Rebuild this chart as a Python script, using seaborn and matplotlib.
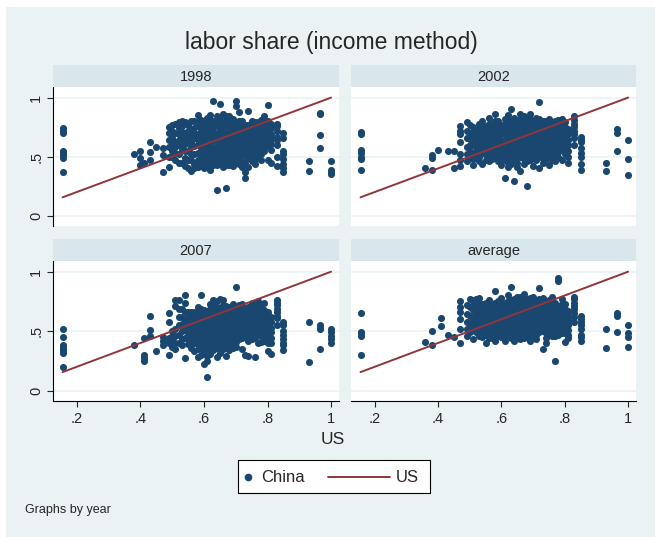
import seaborn as sns
import matplotlib.pyplot as plt
import pandas as pd
from matplotlib.patches import Rectangle
from matplotlib.lines import Line2D

# US labor share by industry (x) and Chinese shares per industry (y)
us_share = [0.155, 0.36, 0.38, 0.40, 0.41, 0.43, 0.45, 0.47, 0.49, 0.50, 0.51, 0.52,
            0.53, 0.54, 0.55, 0.56, 0.57, 0.58, 0.59, 0.60, 0.61, 0.62, 0.63, 0.64,
            0.65, 0.66, 0.67, 0.68, 0.69, 0.70, 0.71, 0.72, 0.73, 0.74, 0.75, 0.76,
            0.77, 0.78, 0.79, 0.80, 0.81, 0.83, 0.85, 0.93, 0.965, 1.0]

china_1998 = [
    [0.74, 0.72, 0.70, 0.55, 0.53, 0.51, 0.49, 0.37], [], [0.52], [0.55, 0.49, 0.43],
    [0.45], [0.62, 0.54, 0.47], [0.58], [0.37, 0.57, 0.51],
    [0.41, 0.64, 0.70, 0.50, 0.75, 0.58], [0.77, 0.72, 0.66, 0.55, 0.50, 0.61],
    [0.78, 0.62, 0.58, 0.47, 0.70, 0.53], [0.74, 0.69, 0.60, 0.52, 0.79, 0.64, 0.45],
    [0.80, 0.76, 0.65, 0.56, 0.45, 0.71, 0.60], [0.79, 0.70, 0.61, 0.49, 0.42, 0.66, 0.55],
    [0.72, 0.63, 0.55, 0.40, 0.77, 0.68, 0.47],
    [0.80, 0.67, 0.58, 0.47, 0.38, 0.73, 0.62, 0.52],
    [0.74, 0.66, 0.52, 0.44, 0.80, 0.70, 0.59, 0.40],
    [0.85, 0.76, 0.69, 0.60, 0.53, 0.41, 0.64, 0.47, 0.80],
    [0.81, 0.72, 0.64, 0.56, 0.49, 0.43, 0.77, 0.60, 0.68],
    [0.78, 0.70, 0.62, 0.55, 0.46, 0.40, 0.74, 0.66, 0.51],
    [0.83, 0.74, 0.66, 0.58, 0.50, 0.42, 0.79, 0.70, 0.54, 0.46],
    [0.85, 0.77, 0.68, 0.61, 0.53, 0.45, 0.39, 0.72, 0.57, 0.81],
    [0.97, 0.80, 0.72, 0.64, 0.57, 0.48, 0.76, 0.68, 0.52, 0.43],
    [0.84, 0.76, 0.69, 0.60, 0.51, 0.43, 0.22, 0.80, 0.65, 0.56, 0.47],
    [0.95, 0.82, 0.73, 0.65, 0.58, 0.49, 0.77, 0.69, 0.62, 0.53, 0.44],
    [0.86, 0.78, 0.70, 0.62, 0.54, 0.45, 0.74, 0.66, 0.58, 0.50, 0.41],
    [0.80, 0.74, 0.66, 0.57, 0.47, 0.23, 0.84, 0.70, 0.61, 0.52, 0.43],
    [0.84, 0.77, 0.69, 0.61, 0.52, 0.43, 0.80, 0.73, 0.65, 0.56, 0.48],
    [0.82, 0.73, 0.64, 0.55, 0.47, 0.78, 0.69, 0.60, 0.51, 0.42],
    [0.97, 0.93, 0.78, 0.70, 0.60, 0.51, 0.74, 0.65, 0.56, 0.46],
    [0.88, 0.75, 0.67, 0.58, 0.44, 0.80, 0.71, 0.62, 0.53, 0.49],
    [0.80, 0.71, 0.62, 0.53, 0.46, 0.76, 0.67, 0.58, 0.41],
    [0.77, 0.66, 0.57, 0.37, 0.32, 0.72, 0.62, 0.51, 0.45],
    [0.89, 0.72, 0.63, 0.49, 0.41, 0.77, 0.68, 0.58, 0.54],
    [0.75, 0.68, 0.60, 0.46, 0.80, 0.71, 0.64, 0.55, 0.51],
    [0.79, 0.70, 0.55, 0.48, 0.74, 0.66, 0.61, 0.44],
    [0.74, 0.65, 0.58, 0.50, 0.79, 0.70, 0.62, 0.54],
    [0.81, 0.71, 0.62, 0.52, 0.76, 0.67, 0.58, 0.47],
    [0.84, 0.76, 0.67, 0.59, 0.80, 0.72, 0.63, 0.55],
    [0.94, 0.80, 0.72, 0.64, 0.47, 0.76, 0.68, 0.59],
    [0.78, 0.69, 0.61, 0.45, 0.74, 0.65, 0.56],
    [0.78, 0.76, 0.67, 0.60, 0.50, 0.42, 0.72, 0.64],
    [0.70, 0.66, 0.55, 0.48, 0.40, 0.37, 0.52, 0.44],
    [0.46, 0.38], [0.87, 0.86, 0.68, 0.57], [0.46, 0.39, 0.37, 0.35]]

china_2002 = [
    [0.71, 0.69, 0.56, 0.53, 0.50, 0.48, 0.39], [0.40], [0.49, 0.39, 0.51], [0.56],
    [], [0.55], [0.55, 0.40], [0.76, 0.69, 0.62, 0.52, 0.42, 0.72, 0.47],
    [0.79, 0.72, 0.58, 0.46, 0.66, 0.52], [0.77, 0.65, 0.55, 0.51, 0.70, 0.60],
    [0.70, 0.60, 0.53, 0.43, 0.75, 0.64, 0.48], [0.66, 0.59, 0.55, 0.71, 0.63, 0.50],
    [0.73, 0.64, 0.57, 0.50, 0.78, 0.68, 0.60, 0.46],
    [0.80, 0.70, 0.61, 0.53, 0.44, 0.75, 0.65, 0.57],
    [0.76, 0.67, 0.58, 0.51, 0.72, 0.62, 0.54, 0.47],
    [0.83, 0.71, 0.63, 0.55, 0.46, 0.78, 0.67, 0.59, 0.50],
    [0.78, 0.68, 0.60, 0.52, 0.74, 0.64, 0.56, 0.48],
    [0.86, 0.75, 0.65, 0.57, 0.49, 0.80, 0.70, 0.61, 0.53],
    [0.80, 0.72, 0.62, 0.54, 0.46, 0.76, 0.67, 0.58, 0.50],
    [0.77, 0.69, 0.60, 0.52, 0.43, 0.73, 0.64, 0.56, 0.48],
    [0.82, 0.73, 0.64, 0.56, 0.47, 0.32, 0.78, 0.69, 0.60, 0.51],
    [0.85, 0.76, 0.67, 0.58, 0.50, 0.41, 0.81, 0.72, 0.63, 0.54, 0.45],
    [0.90, 0.79, 0.70, 0.61, 0.53, 0.44, 0.75, 0.66, 0.57, 0.49],
    [0.83, 0.74, 0.65, 0.56, 0.48, 0.29, 0.79, 0.70, 0.61, 0.52],
    [0.80, 0.71, 0.62, 0.54, 0.45, 0.76, 0.67, 0.58, 0.50, 0.41],
    [0.86, 0.77, 0.68, 0.59, 0.50, 0.38, 0.82, 0.73, 0.64, 0.55],
    [0.84, 0.75, 0.66, 0.57, 0.48, 0.79, 0.70, 0.61, 0.53, 0.44],
    [0.82, 0.72, 0.63, 0.55, 0.46, 0.25, 0.77, 0.68, 0.59, 0.50],
    [0.86, 0.78, 0.69, 0.60, 0.51, 0.82, 0.73, 0.64, 0.56, 0.47],
    [0.80, 0.71, 0.62, 0.53, 0.42, 0.76, 0.67, 0.58, 0.49],
    [0.83, 0.74, 0.65, 0.56, 0.47, 0.79, 0.70, 0.61, 0.52],
    [0.96, 0.77, 0.68, 0.59, 0.50, 0.40, 0.82, 0.73, 0.64, 0.55],
    [0.80, 0.71, 0.62, 0.54, 0.45, 0.76, 0.67, 0.58, 0.49],
    [0.75, 0.66, 0.57, 0.48, 0.80, 0.71, 0.62, 0.53],
    [0.82, 0.73, 0.64, 0.55, 0.43, 0.78, 0.69, 0.60, 0.50],
    [0.78, 0.69, 0.60, 0.51, 0.74, 0.65, 0.56, 0.47],
    [0.80, 0.72, 0.63, 0.54, 0.46, 0.76, 0.67, 0.58],
    [0.76, 0.67, 0.58, 0.50, 0.81, 0.72, 0.63, 0.54],
    [0.82, 0.74, 0.65, 0.56, 0.47, 0.78, 0.69, 0.60],
    [0.79, 0.70, 0.61, 0.52, 0.75, 0.66, 0.57],
    [0.73, 0.64, 0.55, 0.45, 0.69, 0.60, 0.50],
    [0.84, 0.78, 0.72, 0.66, 0.60, 0.81, 0.75, 0.69],
    [0.67, 0.62, 0.57, 0.50, 0.44, 0.39, 0.64, 0.53],
    [0.45, 0.38], [0.73, 0.70, 0.545], [0.645, 0.48, 0.34]]

china_2007 = [
    [0.52, 0.45, 0.38, 0.36, 0.34, 0.32, 0.20], [], [0.38], [], [0.44, 0.30, 0.27, 0.25],
    [0.63, 0.51, 0.46], [0.33], [0.38, 0.45, 0.42], [0.65, 0.58, 0.44, 0.30, 0.40],
    [0.50, 0.42, 0.37, 0.46], [0.76, 0.71, 0.46, 0.35, 0.40, 0.52],
    [0.76, 0.69, 0.55, 0.40, 0.62, 0.47], [0.69, 0.62, 0.50, 0.43, 0.56, 0.38],
    [0.80, 0.74, 0.58, 0.44, 0.27, 0.66, 0.51], [0.66, 0.55, 0.47, 0.39, 0.61, 0.51, 0.43],
    [0.62, 0.53, 0.45, 0.36, 0.66, 0.57, 0.49, 0.41],
    [0.66, 0.58, 0.49, 0.40, 0.33, 0.62, 0.53, 0.45],
    [0.70, 0.60, 0.52, 0.43, 0.35, 0.28, 0.65, 0.56, 0.47, 0.39],
    [0.80, 0.64, 0.55, 0.47, 0.38, 0.30, 0.69, 0.60, 0.51, 0.42],
    [0.68, 0.59, 0.50, 0.41, 0.33, 0.22, 0.63, 0.54, 0.46, 0.37],
    [0.62, 0.54, 0.45, 0.37, 0.29, 0.11, 0.67, 0.58, 0.50, 0.41, 0.25],
    [0.73, 0.65, 0.56, 0.48, 0.40, 0.31, 0.69, 0.60, 0.52, 0.44, 0.35],
    [0.76, 0.67, 0.59, 0.51, 0.42, 0.34, 0.72, 0.63, 0.55, 0.46, 0.38],
    [0.70, 0.61, 0.53, 0.45, 0.36, 0.28, 0.75, 0.66, 0.57, 0.49, 0.40],
    [0.77, 0.64, 0.56, 0.48, 0.39, 0.32, 0.69, 0.60, 0.52, 0.44],
    [0.76, 0.68, 0.59, 0.51, 0.43, 0.35, 0.72, 0.64, 0.55, 0.47],
    [0.71, 0.62, 0.54, 0.46, 0.38, 0.29, 0.66, 0.58, 0.50, 0.42],
    [0.66, 0.58, 0.50, 0.42, 0.34, 0.70, 0.62, 0.54, 0.46, 0.38],
    [0.73, 0.64, 0.56, 0.48, 0.40, 0.68, 0.60, 0.52, 0.44, 0.36],
    [0.87, 0.70, 0.61, 0.53, 0.45, 0.37, 0.65, 0.57, 0.49, 0.41],
    [0.67, 0.59, 0.51, 0.43, 0.72, 0.63, 0.55, 0.47],
    [0.73, 0.64, 0.56, 0.48, 0.35, 0.68, 0.60, 0.52, 0.44],
    [0.69, 0.61, 0.53, 0.45, 0.65, 0.57, 0.49, 0.30],
    [0.66, 0.58, 0.50, 0.42, 0.29, 0.70, 0.62, 0.54, 0.46],
    [0.74, 0.62, 0.55, 0.47, 0.67, 0.59, 0.51, 0.43],
    [0.70, 0.60, 0.52, 0.44, 0.28, 0.65, 0.56, 0.48],
    [0.75, 0.66, 0.57, 0.49, 0.40, 0.71, 0.62, 0.53],
    [0.72, 0.63, 0.54, 0.46, 0.68, 0.59, 0.50, 0.41],
    [0.74, 0.68, 0.59, 0.51, 0.42, 0.64, 0.55, 0.47],
    [0.66, 0.57, 0.49, 0.40, 0.33, 0.62, 0.53, 0.45],
    [0.62, 0.53, 0.44, 0.31, 0.58, 0.49, 0.40],
    [0.76, 0.72, 0.66, 0.61, 0.55, 0.74, 0.69, 0.63],
    [0.58, 0.55, 0.47, 0.43, 0.38, 0.34, 0.50, 0.40],
    [0.58, 0.24], [0.55, 0.53, 0.52, 0.35], [0.52, 0.49, 0.46, 0.43, 0.40]]

china_avg = [
    [0.65, 0.49, 0.48, 0.46, 0.30], [0.41], [0.50, 0.38], [], [0.61, 0.54], [0.47],
    [0.45], [0.75, 0.66, 0.60, 0.40, 0.70, 0.52], [0.72, 0.64, 0.52, 0.46, 0.58],
    [0.77, 0.70, 0.56, 0.49, 0.63], [0.76, 0.68, 0.60, 0.52, 0.43, 0.72, 0.56],
    [0.72, 0.64, 0.57, 0.49, 0.77, 0.68, 0.53],
    [0.78, 0.69, 0.61, 0.54, 0.46, 0.73, 0.65, 0.50],
    [0.73, 0.65, 0.57, 0.50, 0.69, 0.61, 0.53, 0.45],
    [0.70, 0.62, 0.55, 0.47, 0.40, 0.74, 0.66, 0.58, 0.51],
    [0.76, 0.67, 0.59, 0.51, 0.44, 0.71, 0.63, 0.55, 0.48],
    [0.72, 0.64, 0.56, 0.48, 0.68, 0.60, 0.52, 0.44],
    [0.84, 0.74, 0.66, 0.58, 0.50, 0.42, 0.70, 0.62, 0.54, 0.46],
    [0.70, 0.62, 0.54, 0.46, 0.75, 0.66, 0.58, 0.50],
    [0.78, 0.69, 0.61, 0.53, 0.45, 0.73, 0.65, 0.57, 0.49],
    [0.74, 0.66, 0.58, 0.50, 0.42, 0.70, 0.62, 0.54, 0.46],
    [0.80, 0.71, 0.63, 0.55, 0.47, 0.75, 0.67, 0.59, 0.51],
    [0.87, 0.76, 0.68, 0.60, 0.52, 0.44, 0.72, 0.64, 0.56, 0.48],
    [0.73, 0.65, 0.57, 0.49, 0.42, 0.77, 0.69, 0.61, 0.53, 0.45],
    [0.79, 0.70, 0.62, 0.54, 0.46, 0.74, 0.66, 0.58, 0.50],
    [0.75, 0.67, 0.59, 0.51, 0.43, 0.79, 0.71, 0.63, 0.55, 0.47],
    [0.81, 0.72, 0.64, 0.56, 0.48, 0.76, 0.68, 0.60, 0.52, 0.44],
    [0.77, 0.69, 0.61, 0.53, 0.45, 0.73, 0.65, 0.57, 0.49],
    [0.74, 0.66, 0.58, 0.50, 0.42, 0.78, 0.70, 0.62, 0.54, 0.46],
    [0.79, 0.71, 0.63, 0.55, 0.47, 0.75, 0.67, 0.59, 0.51],
    [0.75, 0.67, 0.59, 0.51, 0.43, 0.71, 0.63, 0.55, 0.47],
    [0.86, 0.73, 0.65, 0.57, 0.49, 0.77, 0.69, 0.61, 0.53],
    [0.78, 0.70, 0.62, 0.54, 0.35, 0.74, 0.66, 0.58, 0.50],
    [0.72, 0.64, 0.56, 0.48, 0.40, 0.68, 0.60, 0.52, 0.44],
    [0.76, 0.68, 0.60, 0.52, 0.72, 0.64, 0.56, 0.48],
    [0.79, 0.70, 0.62, 0.54, 0.46, 0.75, 0.66, 0.58, 0.50],
    [0.74, 0.66, 0.58, 0.50, 0.25, 0.70, 0.62, 0.54, 0.46],
    [0.95, 0.92, 0.71, 0.63, 0.55, 0.47, 0.67, 0.59, 0.51],
    [0.77, 0.68, 0.60, 0.52, 0.73, 0.64, 0.56, 0.48],
    [0.73, 0.64, 0.56, 0.48, 0.41, 0.69, 0.60, 0.52],
    [0.67, 0.59, 0.51, 0.44, 0.63, 0.55, 0.47],
    [0.79, 0.74, 0.69, 0.65, 0.58, 0.77, 0.71, 0.62],
    [0.63, 0.58, 0.52, 0.47, 0.42, 0.60, 0.55, 0.45],
    [0.52, 0.36], [0.65, 0.63, 0.49], [0.55, 0.48, 0.45, 0.37]]

panel_names = ["1998", "2002", "2007", "average"]
panel_data = [china_1998, china_2002, china_2007, china_avg]

# long table
rows = []
for name, ys in zip(panel_names, panel_data):
    for x, col in zip(us_share, ys):
        for y in col:
            rows.append((name, x, y))
df = pd.DataFrame(rows, columns=["year", "US", "China"])

navy = "#1a476f"
maroon = "#90353b"
bg = "#eaf2f3"
strip_c = "#d9e6eb"

sns.set_style("white")
plt.rcParams["font.family"] = ["Liberation Sans", "DejaVu Sans"]

W, H = 655, 537
fig = plt.figure(figsize=(6.55, 5.37), dpi=100)
fig.patches.append(Rectangle((6 / W, 0), 1, 530 / H, transform=fig.transFigure,
                             facecolor=bg, edgecolor="none", zorder=-10))

boxes = {"1998": (53, 87, 286, 139), "2002": (351, 87, 285, 139),
         "2007": (53, 261, 286, 140), "average": (351, 261, 285, 140)}

for i, name in enumerate(panel_names):
    px, py, pw, ph = boxes[name]
    ax = fig.add_axes([px / W, 1 - (py + ph) / H, pw / W, ph / H])
    ax.set_facecolor("white")
    for yv in [0, 0.5, 1]:
        ax.axhline(yv, color=bg, lw=1.2, zorder=0)
    sub = df[df["year"] == name]
    sns.scatterplot(data=sub, x="US", y="China", ax=ax, color=navy, s=26,
                    linewidth=0, zorder=3)
    sns.lineplot(x=us_share, y=us_share, ax=ax, color=maroon, lw=1.4, zorder=4)
    ax.set_xlim(0.125, 1.025)
    ax.set_ylim(-0.088, 1.09)
    ax.set_xlabel("")
    ax.set_ylabel("")
    for s in ["top", "right", "left", "bottom"]:
        ax.spines[s].set_visible(False)
    left = i % 2 == 0
    bottom = i >= 2
    ax.set_yticks([0, 0.5, 1])
    ax.set_xticks([0.2, 0.4, 0.6, 0.8, 1.0])
    if left:
        ax.spines["left"].set_visible(True)
        ax.spines["left"].set_color("black")
        ax.spines["left"].set_linewidth(0.8)
        ax.set_yticklabels(["0", ".5", "1"], rotation=90, va="center", fontsize=10.5)
        ax.tick_params(axis="y", length=4, width=0.8, pad=3, left=True)
    else:
        ax.set_yticklabels([])
        ax.tick_params(axis="y", length=0)
    if bottom:
        ax.spines["bottom"].set_visible(True)
        ax.spines["bottom"].set_color("black")
        ax.spines["bottom"].set_linewidth(0.8)
        ax.set_xticklabels([".2", ".4", ".6", ".8", "1"], fontsize=10.5)
        ax.tick_params(axis="x", length=4, width=0.8, pad=4, bottom=True)
    else:
        ax.set_xticklabels([])
        ax.tick_params(axis="x", length=0)

    # strip header
    sax = fig.add_axes([px / W, 1 - py / H, pw / W, 22 / H])
    sax.set_facecolor(strip_c)
    sax.set_xticks([])
    sax.set_yticks([])
    for s in sax.spines.values():
        s.set_visible(False)
    sax.text(0.5, 0.45, name, ha="center", va="center", fontsize=10.5,
             transform=sax.transAxes)

fig.text(331 / W, 1 - 42 / H, "labor share (income method)", ha="center",
         va="center", fontsize=16.5)
fig.text(333 / W, 1 - 440 / H, "US", ha="center", va="center", fontsize=12.5)
fig.text(25 / W, 1 - 510 / H, "Graphs by year", ha="left", va="center", fontsize=9)

# legend box, drawn by hand to get Stata's key layout
fig.patches.append(Rectangle((238 / W, 1 - 493 / H), 192 / W, 33 / H,
                             transform=fig.transFigure, facecolor="white",
                             edgecolor="black", lw=0.8, zorder=5))
ly = 1 - 477 / H
fig.add_artist(Line2D([248 / W], [ly], ls="none", marker="o", color=navy,
                      markersize=4.5, transform=fig.transFigure, zorder=6))
fig.text(261 / W, ly, "China", ha="left", va="center", fontsize=12, zorder=6)
fig.add_artist(Line2D([328 / W, 390 / W], [ly, ly], color=maroon, lw=1.4,
                      transform=fig.transFigure, zorder=6))
fig.text(396 / W, ly, "US", ha="left", va="center", fontsize=12, zorder=6)

fig.savefig("out.png", dpi=100, facecolor="white")
